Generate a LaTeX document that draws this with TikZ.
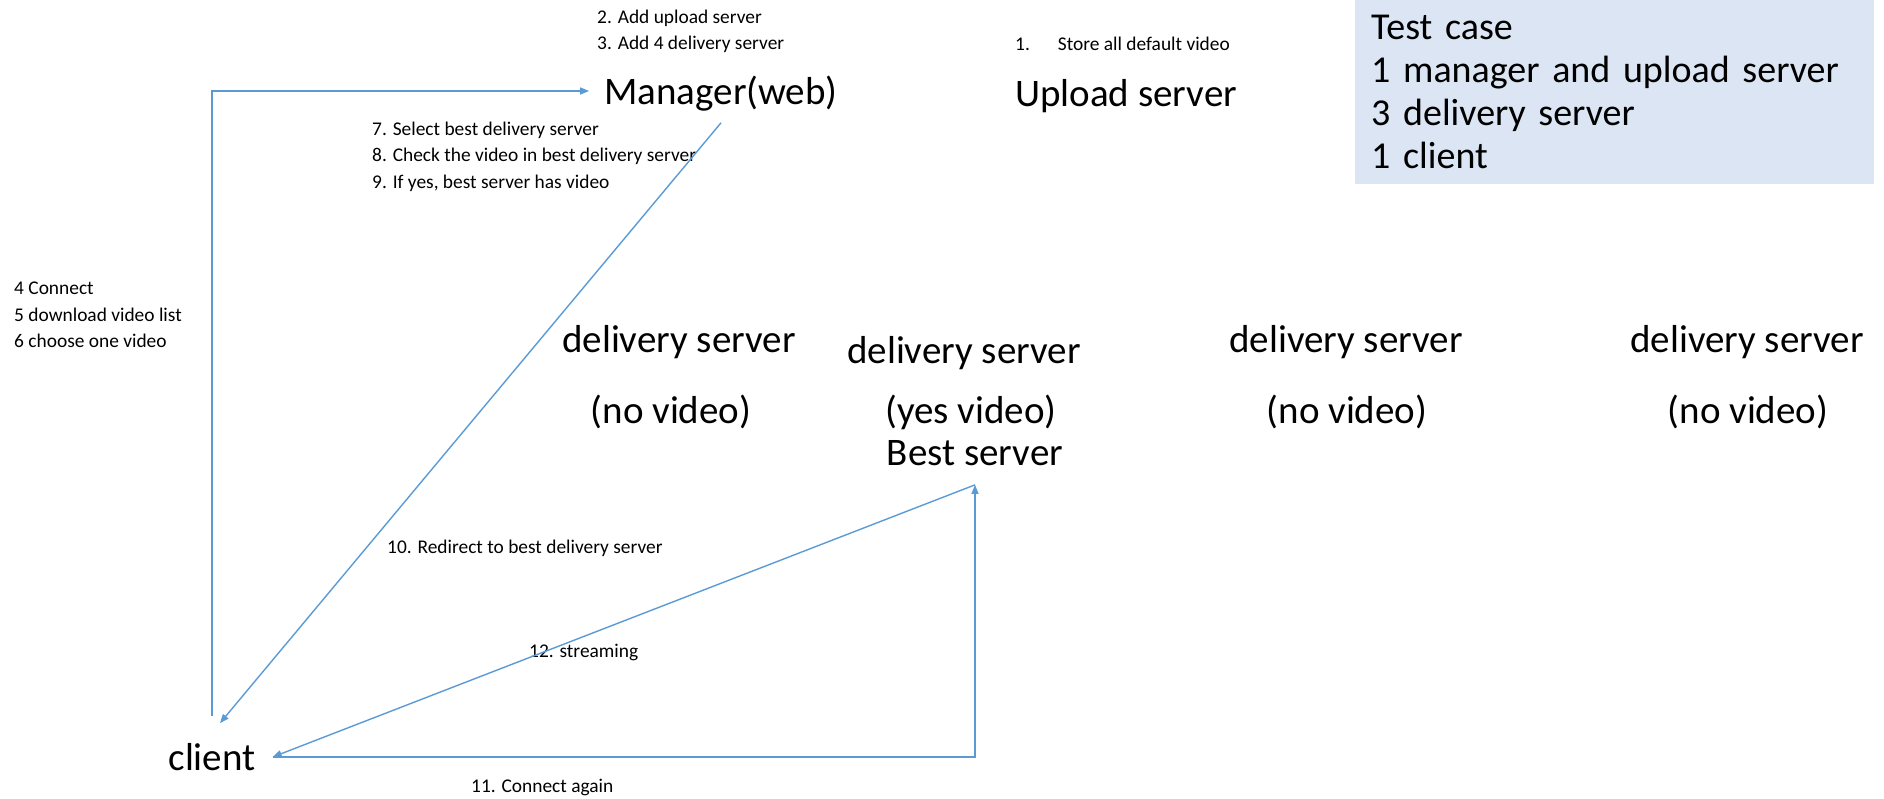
\documentclass[tikz,border=0pt]{standalone}
\usepackage{fontspec}
\setmainfont{Carlito}
\usetikzlibrary{arrows.meta}
\definecolor{lineblue}{RGB}{91,155,213}
\definecolor{boxblue}{RGB}{220,229,243}
\tikzset{
  big/.style={font=\fontsize{39}{41}\selectfont, inner sep=0pt},
  small/.style={font=\fontsize{19.4}{26.5}\selectfont, align=left, inner sep=0pt},
  conn/.style={draw=lineblue, line width=1.4pt},
  arr/.style={conn, -{Triangle[length=9pt,width=7pt]}},
}
\begin{document}
\begin{tikzpicture}[x=1pt,y=-1pt]
\useasboundingbox (0,0) rectangle (1884,799);
% test case box
\node[fill=boxblue, anchor=north west, minimum width=519pt, minimum height=184pt,
      text width=487pt, inner xsep=16pt, inner ysep=0pt, align=left,
      font=\fontsize{38}{43}\selectfont] (testcase) at (1355,0)
  {\mbox{Test case}\\\mbox{1 manager and upload server}\\\mbox{3 delivery server}\\\mbox{1 client}};
% main nodes
\node[big, inner xsep=15pt, inner ysep=11pt] (mgr) at (721,94) {Manager(web)};
\node[big, anchor=west] (upload) at (1015,96) {Upload server};
\node[big, inner xsep=17pt, inner ysep=27pt] (client) at (212,757) {client};
\node[big] (d1) at (679,342) {delivery server};
\node[big] (d1v) at (671,412) {(no video)};
\node[big] (d2) at (964,353) {delivery server};
\node[big] (d2v) at (971,412) {(yes video)};
\node[big, inner sep=19pt] (best) at (975,453) {Best server};
\node[big] (d3) at (1346,342) {delivery server};
\node[big] (d3v) at (1347,412) {(no video)};
\node[big] (d4) at (1747,342) {delivery server};
\node[big] (d4v) at (1748,412) {(no video)};
% labels
\node[small, anchor=west] (l23) at (597,31.5) {2. Add upload server\\3. Add 4 delivery server};
\node[small, anchor=west] (l1) at (1015,44) {1.\hspace{28pt}Store all default video};
\node[small, anchor=west] (l789) at (372,156.5) {7. Select best delivery server\\8. Check the video in best delivery server\\9. If yes, best server has video};
\node[small, anchor=west] (l456) at (14,315) {4 Connect\\5 download video list\\6 choose one video};
\node[small, anchor=west] (l10) at (387,548) {10. Redirect to best delivery server};
\node[small, anchor=west] (l12) at (529,652) {12. streaming};
\node[small, anchor=west] (l11) at (471,787) {11. Connect again};
% connectors
\draw[arr] (client.north) |- ([yshift=3pt]mgr.west);
\draw[arr] (mgr.south) -- ([xshift=8pt,yshift=-7pt]client.north);
\draw[arr] (client.east) -| (best.south);
\draw[arr] (best.south) -- (client.east);
\end{tikzpicture}
\end{document}
